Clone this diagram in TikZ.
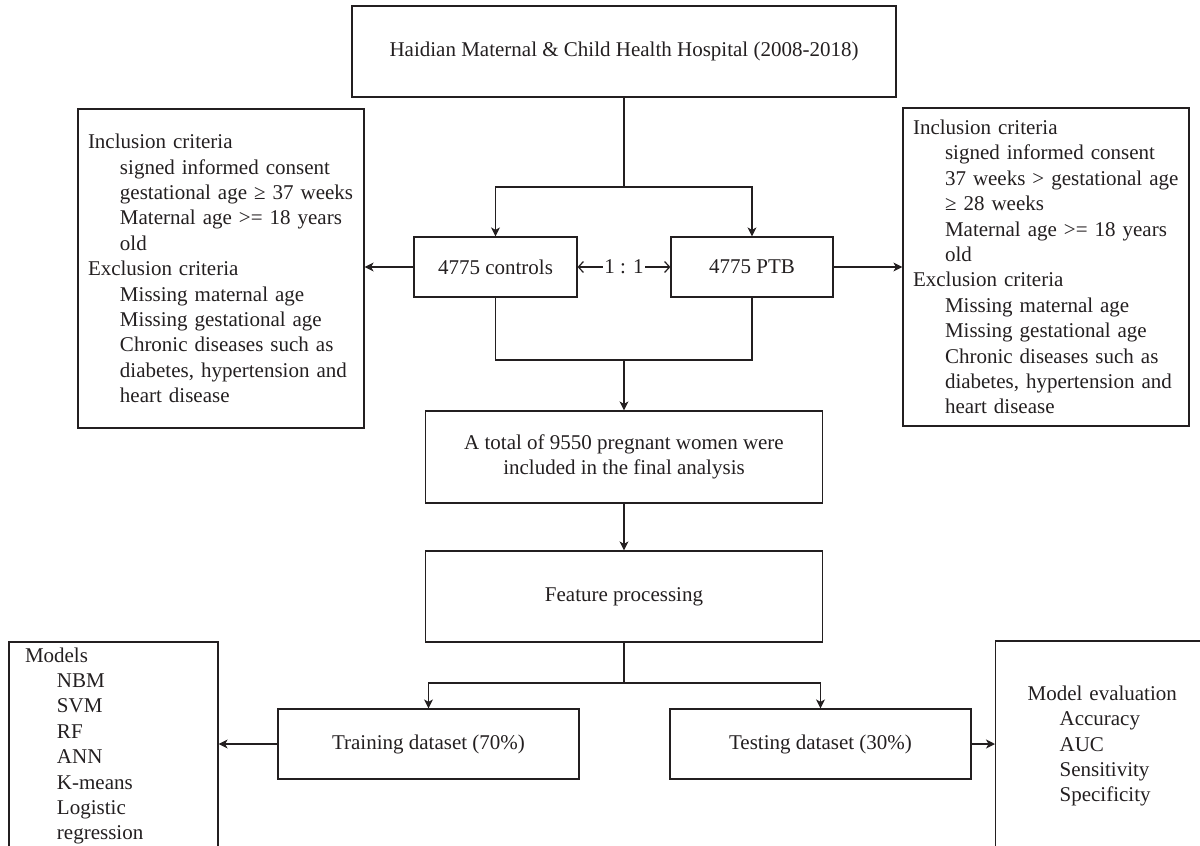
\documentclass[tikz,border=0pt]{standalone}
\usepackage{fontspec}
\setmainfont{Liberation Serif}
\usetikzlibrary{arrows.meta}
\definecolor{ink}{RGB}{35,31,32}
\newcommand{\subind}{\hspace*{32pt}}

\begin{document}
\begin{tikzpicture}[x=1pt,y=-1pt,
  box/.style={draw=ink,line width=1.2pt,inner sep=0pt,align=center,text=ink,font=\fontsize{21}{25.4}\selectfont},
  listbox/.style={box,align=left},
  link/.style={draw=ink,line width=1.2pt},
  arr/.style={link,-{Stealth[length=9pt,width=9pt,inset=2.5pt]}},
  ratio/.style={link,{Straight Barb[length=5pt,width=11pt]}-{Straight Barb[length=5pt,width=11pt]}}]
\path[use as bounding box] (0,0) rectangle (1200,846);
\clip (0,0) rectangle (1200,846);
\node[box,minimum width=544pt,minimum height=91pt] (hosp) at (624,51.5) {Haidian Maternal \& Child Health Hospital (2008-2018)};
\node[box,minimum width=163pt,minimum height=60pt] (ctrl) at (495.5,267) {4775 controls};
\node[box,minimum width=162pt,minimum height=60pt] (ptb) at (752,267) {4775 PTB};
\node[listbox,text width=266pt,inner xsep=10pt,minimum height=319pt] (incl) at (221,268.5) {Inclusion criteria\\
\subind signed informed consent\\
\subind gestational age ≥ 37 weeks\\
\subind Maternal age >= 18 years\\
\subind old\\
Exclusion criteria\\
\subind Missing maternal age\\
\subind Missing gestational age\\
\subind Chronic diseases such as\\
\subind diabetes, hypertension and\\
\subind heart disease};
\node[listbox,text width=266pt,inner xsep=10pt,minimum height=318pt] (rinc) at (1046,267) {Inclusion criteria\\
\subind signed informed consent\\
\subind 37 weeks > gestational age\\
\subind ≥ 28 weeks\\
\subind Maternal age >= 18 years\\
\subind old\\
Exclusion criteria\\
\subind Missing maternal age\\
\subind Missing gestational age\\
\subind Chronic diseases such as\\
\subind diabetes, hypertension and\\
\subind heart disease};
\node[box,minimum width=397pt,minimum height=92pt] (total) at (624,457) {A total of 9550 pregnant women were\\included in the final analysis};
\node[box,minimum width=397pt,minimum height=91pt] (feat) at (624,596.5) {Feature processing};
\node[box,minimum width=301pt,minimum height=70pt] (train) at (428.5,744) {Training dataset (70\%)};
\node[box,minimum width=301pt,minimum height=70pt] (test) at (820.5,744) {Testing dataset (30\%)};
\node[listbox,text width=177pt,inner xsep=16pt,minimum height=208pt] (models) at (113.5,746) {Models\\
\subind NBM\\
\subind SVM\\
\subind RF\\
\subind ANN\\
\subind K-means\\
\subind Logistic\\
\subind regression};
\node[listbox,text width=196pt,inner xsep=32pt,minimum height=210pt,anchor=west] (evals) at (995,746) {Model evaluation\\
\subind Accuracy\\
\subind AUC\\
\subind Sensitivity\\
\subind Specificity};
\coordinate (split1) at (624,187);
\coordinate (merge) at (624,360);
\coordinate (split2) at (624,683);
\draw[link] (hosp.south) -- (split1);
\draw[arr] (split1) -| (ctrl.north);
\draw[arr] (split1) -| (ptb.north);
\draw[ratio] (ctrl.east) -- node[fill=white,inner sep=1pt,text=ink,font=\fontsize{21}{25.4}\selectfont] (ratiolbl) {1 : 1} (ptb.west);
\draw[arr] (ctrl.west) -- (ctrl.west -| incl.east);
\draw[arr] (ptb.east) -- (ptb.east -| rinc.west);
\draw[link] (ctrl.south) |- (merge) -| (ptb.south);
\draw[arr] (merge) -- (total.north);
\draw[arr] (total.south) -- (feat.north);
\draw[link] (feat.south) -- (split2);
\draw[arr] (split2) -| (train.north);
\draw[arr] (split2) -| (test.north);
\draw[arr] (train.west) -- (train.west -| models.east);
\draw[arr] (test.east) -- (test.east -| evals.west);
\end{tikzpicture}
\end{document}
